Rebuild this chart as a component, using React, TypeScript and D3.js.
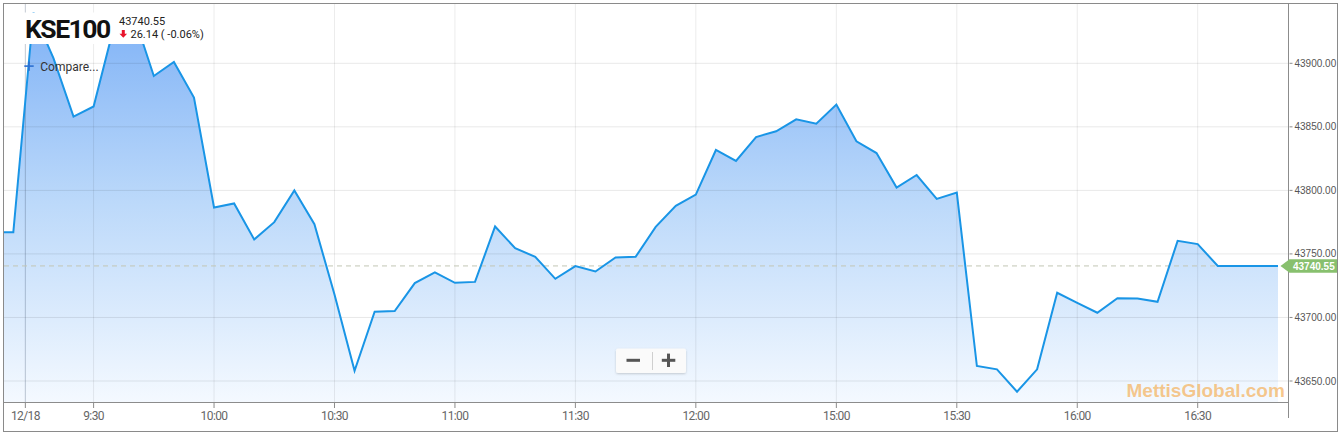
import React from 'react';
import * as d3 from 'd3';

const W = 1340;
const H = 434;

const symbol = 'KSE100';
const lastPrice = 43740.55;
const changeText = '26.14 ( -0.06%)';
const watermark = 'MettisGlobal.com';

// 5-minute closes, first one is just off the left edge
const values = [
  43767, 43767, 43940, 43904, 43858, 43866, 43928, 43938, 43890, 43901,
  43873, 43786.5, 43789.7, 43761.4, 43775, 43800, 43773.4, 43718, 43658, 43704.5,
  43705, 43727, 43735.4, 43727.3, 43728, 43771.6, 43754.5, 43747.7, 43730.4, 43740.4,
  43736.2, 43747.2, 43747.7, 43771.3, 43787.8, 43796.7, 43831.8, 43823.2, 43842, 43846.5,
  43855.9, 43852.5, 43867.5, 43838.6, 43829.4, 43802.2, 43812.1, 43793.3, 43798.3, 43661.8,
  43659.2, 43641.6, 43659.2, 43719.4, 43711.5, 43703.7, 43715.2, 43715, 43712.3, 43760.3,
  43757.7, 43740.55, 43740.55, 43740.55, 43740.55,
];

const xTickSlots = [0.6, 4, 10, 16, 22, 28, 34, 41, 47, 53, 59];
const xTickLabels = ['12/18', '9:30', '10:00', '10:30', '11:00', '11:30', '12:00', '15:00', '15:30', '16:00', '16:30'];
const yTicks = [43650, 43700, 43750, 43800, 43850, 43900];

const PL = 4, PR = 1288.5, PT = 4, PB = 402;

export default function App() {
  const x = d3.scaleLinear().domain([0, 63]).range([13.3, 1278]);
  const y = d3.scaleLinear().domain([43650, 43900]).range([381, 63.3]);
  const xi = (i: number) => x(i - 1);

  const line = d3.line<number>().x((_, i) => xi(i)).y((d) => y(d));
  const area = d3.area<number>().x((_, i) => xi(i)).y0(PB).y1((d) => y(d));

  const axisFont = '"Liberation Sans", Arial, sans-serif';
  const uiFont = 'Roboto, "Noto Sans", sans-serif';

  return (
    <svg width={W} height={H} style={{ position: 'absolute', left: 0, top: 0, background: '#fff' }}>
      <defs>
        <linearGradient id="fillGrad" gradientUnits="userSpaceOnUse" x1="0" y1={PT} x2="0" y2={PB}>
          <stop offset="0" stopColor="#7cb0f6" />
          <stop offset="0.5" stopColor="#bcd9fa" />
          <stop offset="1" stopColor="#f4f9ff" />
        </linearGradient>
        <clipPath id="plotClip">
          <rect x={PL} y={PT} width={PR - PL} height={PB - PT} />
        </clipPath>
        <filter id="btnShadow" x="-20%" y="-30%" width="140%" height="170%">
          <feDropShadow dx="0" dy="1" stdDeviation="1" floodColor="#000" floodOpacity="0.18" />
        </filter>
      </defs>

      <g clipPath="url(#plotClip)">
        <path d={area(values) || ''} fill="url(#fillGrad)" />
        {yTicks.map((t) => (
          <line key={'hg' + t} x1={PL} x2={PR} y1={y(t)} y2={y(t)} stroke="rgba(0,0,0,0.09)" strokeWidth={1} />
        ))}
        {xTickSlots.map((s, i) => (
          <line key={'vg' + i} x1={x(s)} x2={x(s)} y1={PT} y2={PB}
            stroke={i === 0 ? 'rgba(60,80,110,0.3)' : 'rgba(0,0,0,0.08)'} strokeWidth={1} />
        ))}
        <line x1={PL} x2={PR} y1={y(lastPrice)} y2={y(lastPrice)} stroke="#c2c6b4" strokeWidth={1} strokeDasharray="5,4" />
        <path d={line(values) || ''} fill="none" stroke="#1995e6" strokeWidth={2} strokeLinejoin="miter" />
      </g>

      {/* axes */}
      <line x1={PL} x2={PR} y1={PB + 0.5} y2={PB + 0.5} stroke="#8c8c8c" />
      <line x1={PR} x2={PR} y1={PT} y2={418} stroke="#8c8c8c" />
      {xTickSlots.map((s, i) => (
        <g key={'xt' + i}>
          <line x1={x(s)} x2={x(s)} y1={PB} y2={PB + 6} stroke="#8c8c8c" />
          <text x={x(s)} y={420} textAnchor="middle" fontFamily={uiFont} fontSize={12} letterSpacing={-0.6} fill="#666">
            {xTickLabels[i]}
          </text>
        </g>
      ))}
      {yTicks.map((t) => (
        <g key={'yt' + t}>
          <line x1={PR + 1} x2={PR + 4} y1={y(t)} y2={y(t)} stroke="#8c8c8c" />
          <text x={PR + 6} y={y(t) + 3.5} fontFamily={axisFont} fontSize={10} fill="#555">
            {t.toFixed(2)}
          </text>
        </g>
      ))}

      {/* last price tag */}
      <polygon
        points={`${PR - 8},${y(lastPrice)} ${PR + 1},${y(lastPrice) - 6.7} ${1337},${y(lastPrice) - 6.7} ${1337},${y(lastPrice) + 6.7} ${PR + 1},${y(lastPrice) + 6.7}`}
        fill="#88c06e" />
      <text x={PR + 4.5} y={y(lastPrice) + 3.6} fontFamily={axisFont} fontSize={10} fontWeight="bold" fill="#fff">
        {lastPrice.toFixed(2)}
      </text>

      {/* header */}
      <rect x={24} y={12.5} width={186} height={31.5} fill="#fff" />
      <text x={25} y={37.5} fontFamily={uiFont} fontSize={26.5} fontWeight="bold" letterSpacing={-1.5} fill="#111">{symbol}</text>
      <text x={119} y={25} fontFamily={uiFont} fontSize={11} fill="#222">{lastPrice.toFixed(2)}</text>
      <path d="M121.8,30 h3 v3.8 h2.3 l-3.8,4 l-3.8,-4 h2.3 z" fill="#e8142c" />
      <text x={130.5} y={37.7} fontFamily={uiFont} fontSize={11} fill="#222">{changeText}</text>

      <rect x={24.3} y={65.3} width={9.4} height={1.6} fill="#2c6fd1" />
      <rect x={28.2} y={61.4} width={1.6} height={9.4} fill="#2c6fd1" />
      <text x={40.3} y={71} fontFamily={uiFont} fontSize={12} fill="#333">Compare...</text>

      {/* zoom buttons */}
      <rect x={616} y={348.5} width={70} height={24.5} rx={2} fill="#fafafa" filter="url(#btnShadow)" />
      <line x1={652.5} x2={652.5} y1={352} y2={370} stroke="#cfcfcf" />
      <rect x={626.5} y={358.8} width={13.5} height={3} fill="#555" />
      <rect x={661.8} y={358.8} width={13.5} height={3} fill="#555" />
      <rect x={667} y={353.6} width={3} height={13.4} fill="#555" />

      {/* watermark */}
      <text x={1126.5} y={397} fontFamily={axisFont} fontSize={19} fontWeight="bold" fill="#f5b35f" fillOpacity={0.72}>
        {watermark}
      </text>

      {/* outer frame */}
      <rect x={3.5} y={3.5} width={1334} height={428} fill="none" stroke="#8a8a8a" />
    </svg>
  );
}
